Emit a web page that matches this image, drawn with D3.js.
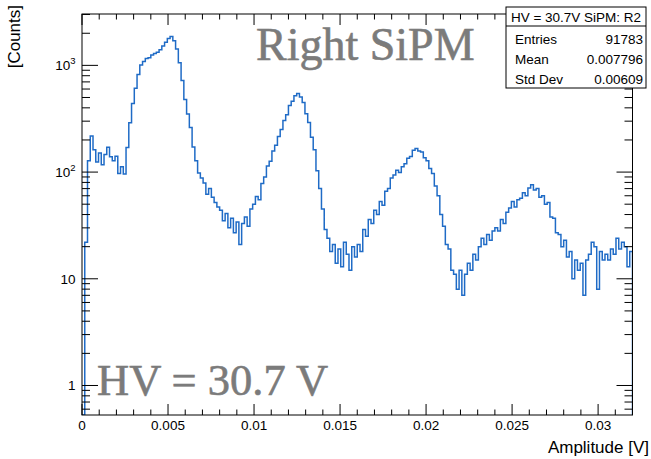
<!DOCTYPE html>
<html><head><meta charset="utf-8">
<script src="https://cdn.jsdelivr.net/npm/d3@7"></script>
<style>html,body{margin:0;padding:0;background:#fff;}</style>
</head><body>
<svg id="c" width="651" height="459"></svg>
<script>
// ---- data ----
const xRange = [0, 0.032];
const counts = [
0,22,128,218,162,124,151,117,146,171,139,128,141,97,112,96,
170,290,440,610,820,1010,1090,1160,1180,1250,1290,1330,1400,1520,1650,1790,1860,1700,1420,1060,720,480,350,262,
172,128,98,88,79,62,70,58,52,47,44,35,41,30,37,27,34,21,33,38,
31,45,50,59,55,78,90,114,126,158,178,215,250,305,345,420,462,518,545,505,
448,352,292,212,162,103,70,45,29,24,18,21,14,19,13,22,17,12,20,16,
21,18,29,25,36,33,44,40,53,49,66,70,88,94,104,99,112,120,135,140,
160,166,158,154,136,128,108,97,74,60,40,31,21,19,12,11,8,12,7,11,
14,12,17,15,20,24,21,26,23,28,30,28,36,33,42,46,53,47,55,57,
64,60,71,76,68,70,58,60,50,52,38,37,27,26,20,23,16,18,10,15,
12,14,7,15,17,22,20,8,18,15,17,15,19,17,24,19,22,20,13,18
];
const xTicks = [0, 0.005, 0.01, 0.015, 0.02, 0.025, 0.03];
const xTickLabels = ["0", "0.005", "0.01", "0.015", "0.02", "0.025", "0.03"];
const yTicks = [1, 10, 100, 1000];
const yTickBase = ["1", "10", "10", "10"];
const yTickExp = ["", "", "2", "3"];
const yDomain = [0.529, 3030];
const statsTitle = "HV = 30.7V SiPM: R2";
const statsLabels = ["Entries", "Mean", "Std Dev"];
const statsValues = ["91783", "0.007796", "0.00609"];
const xTitle = "Amplitude [V]";
const yTitle = "[Counts]";
const label1 = "Right SiPM";
const label2 = "HV = 30.7 V";

// ---- layout ----
const L = 82, R = 632.5, T = 14, B = 415;
const svg = d3.select("#c");
const font = "'Liberation Sans', Arial, Helvetica, sans-serif";
const serif = "'Liberation Serif', 'Times New Roman', serif";
const x = d3.scaleLinear().domain(xRange).range([L, R]);
const y = d3.scaleLog().domain(yDomain).range([B, T]);

// histogram outline
const nb = counts.length;
const bw = (xRange[1] - xRange[0]) / nb;
const yv = c => c > 0 ? y(Math.max(c, yDomain[0])) : B;
let pts = [[x(xRange[0]), B]];
counts.forEach((c, i) => {
  const lo = xRange[0] + i * bw, hi = lo + bw;
  pts.push([x(lo), yv(c)]);
  pts.push([x(hi), yv(c)]);
});
pts.push([x(xRange[1]), B]);
svg.append("defs").append("clipPath").attr("id", "clip")
  .append("rect").attr("x", L).attr("y", T).attr("width", R - L).attr("height", B - T);
svg.append("path").attr("d", d3.line()(pts)).attr("fill", "none")
  .attr("stroke", "#1f6bc6").attr("stroke-width", 1.5).attr("clip-path", "url(#clip)");

// frame
svg.append("rect").attr("x", L).attr("y", T).attr("width", R - L).attr("height", B - T)
  .attr("fill", "none").attr("stroke", "#000").attr("stroke-width", 1);

// x ticks
const g = svg.append("g").attr("stroke", "#000").attr("stroke-width", 1);
const xMinor = d3.range(0, 33).map(k => k * 0.001).filter(v => v <= xRange[1] + 1e-9);
xMinor.forEach(v => {
  const major = xTicks.some(t => Math.abs(t - v) < 1e-9);
  const len = major ? 11 : 5.5;
  g.append("line").attr("x1", x(v)).attr("x2", x(v)).attr("y1", B).attr("y2", B - len);
  g.append("line").attr("x1", x(v)).attr("x2", x(v)).attr("y1", T).attr("y2", T + len);
});
svg.append("g").selectAll("text").data(xTicks).join("text")
  .attr("x", d => x(d)).attr("y", 430).attr("text-anchor", "middle")
  .attr("font-family", font).attr("font-size", 13.5).attr("fill", "#000")
  .text((d, i) => xTickLabels[i]);

// y ticks
const yMinor = [];
[0.1, 1, 10, 100, 1000].forEach(dec => { for (let m = 1; m <= 9; m++) yMinor.push(dec * m); });
yMinor.filter(v => v >= yDomain[0] && v <= yDomain[1]).forEach(v => {
  const major = yTicks.includes(v);
  const len = major ? 16 : 8;
  g.append("line").attr("x1", L).attr("x2", L + len).attr("y1", y(v)).attr("y2", y(v));
  g.append("line").attr("x1", R).attr("x2", R - len).attr("y1", y(v)).attr("y2", y(v));
});
yTicks.forEach((v, i) => {
  const t = svg.append("text").attr("x", 75.5).attr("y", y(v) + 5).attr("text-anchor", "end")
    .attr("font-family", font).attr("font-size", 13.5).attr("fill", "#000");
  t.append("tspan").text(yTickBase[i]);
  if (yTickExp[i]) t.append("tspan").attr("font-size", 9.5).attr("dy", -6).text(yTickExp[i]);
});

// axis titles
svg.append("text").attr("x", 649).attr("y", 453).attr("text-anchor", "end")
  .attr("font-family", font).attr("font-size", 17).attr("fill", "#000").text(xTitle);
svg.append("text").attr("transform", "translate(20,5) rotate(-90)").attr("text-anchor", "end")
  .attr("font-family", font).attr("font-size", 17).attr("fill", "#000").text(yTitle);

// big labels
svg.append("text").attr("x", 256).attr("y", 60)
  .attr("font-family", serif).attr("font-size", 46)
  .attr("fill", "#7b7b7b").attr("stroke", "#7b7b7b").attr("stroke-width", 0.6).text(label1);
svg.append("text").attr("x", 97).attr("y", 395)
  .attr("font-family", serif).attr("font-size", 44.5)
  .attr("fill", "#7b7b7b").attr("stroke", "#7b7b7b").attr("stroke-width", 0.6).text(label2);

// stats box
const sb = {l: 506, r: 646, t: 7, h1: 26, b: 88};
svg.append("rect").attr("x", sb.l).attr("y", sb.t).attr("width", sb.r - sb.l).attr("height", sb.b - sb.t)
  .attr("fill", "#fff").attr("stroke", "#000").attr("stroke-width", 1);
svg.append("line").attr("x1", sb.l).attr("x2", sb.r).attr("y1", sb.h1).attr("y2", sb.h1)
  .attr("stroke", "#000").attr("stroke-width", 1);
svg.append("text").attr("x", (sb.l + sb.r) / 2).attr("y", 21.5).attr("text-anchor", "middle")
  .attr("font-family", font).attr("font-size", 13.5).attr("fill", "#000").text(statsTitle);
const rowY = [44, 64, 83.5];
statsLabels.forEach((s, i) => {
  svg.append("text").attr("x", 515).attr("y", rowY[i]).attr("font-family", font)
    .attr("font-size", 13.5).attr("fill", "#000").text(s);
  svg.append("text").attr("x", 643).attr("y", rowY[i]).attr("text-anchor", "end").attr("font-family", font)
    .attr("font-size", 13.5).attr("fill", "#000").text(statsValues[i]);
});
</script>
</body></html>
